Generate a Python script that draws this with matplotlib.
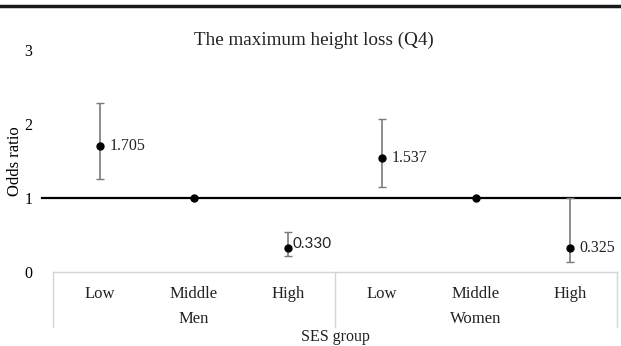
import numpy as np
import matplotlib.pyplot as plt
from matplotlib.lines import Line2D

# values
groups = ["Men", "Women"]
ses_levels = ["Low", "Middle", "High"]
odds = [1.705, 1.0, 0.330, 1.537, 1.0, 0.325]
ci_low = [1.26, 1.0, 0.21, 1.15, 1.0, 0.14]
ci_high = [2.29, 1.0, 0.54, 2.07, 1.0, 1.0]
labels = ["1.705", None, "0.330", "1.537", None, "0.325"]

plt.rcParams['font.family'] = ['Liberation Serif', 'DejaVu Serif']

fig = plt.figure(figsize=(6.21, 3.46), dpi=100)
ax = fig.add_axes([53 / 621, 74 / 346, 564 / 621, 222 / 346])

x = np.arange(len(odds))
odds = np.array(odds)
yerr = [odds - np.array(ci_low), np.array(ci_high) - odds]

# reference line at OR = 1, starts a bit left of the category box
ax.plot([-0.62, 5.6], [1, 1], color='black', lw=1.6, clip_on=False, zorder=2)

has_ci = [i for i in range(len(odds)) if ci_high[i] > ci_low[i]]
ax.errorbar(x[has_ci], odds[has_ci],
            yerr=[yerr[0][has_ci], yerr[1][has_ci]],
            fmt='none', ecolor='#7a7a7a', elinewidth=1.2,
            capsize=3, capthick=1.0, zorder=3)
ax.plot(x, odds, 'o', color='black', ms=5, zorder=4)

# value labels next to the points
offsets = {0: (0.10, 0.0), 2: (0.05, 0.05), 3: (0.10, 0.0), 5: (0.10, 0.0)}
for i, lab in enumerate(labels):
    if lab is None:
        continue
    dx, dy = offsets[i]
    if i == 2:
        ax.text(x[i] + dx, odds[i] + dy, lab, ha='left', va='center',
                fontsize=11, family=['Lato', 'DejaVu Sans'], color='#222222')
    else:
        ax.text(x[i] + dx, odds[i] + dy, lab, ha='left', va='center',
                fontsize=11.5, color='#222222')

ax.set_xlim(-0.5, 5.5)
ax.set_ylim(0, 3)
ax.set_yticks([0, 1, 2, 3])
ax.set_xticks([])
ax.tick_params(axis='y', length=0, pad=15, labelsize=11.5)
for s in ax.spines.values():
    s.set_visible(False)
ax.set_ylabel("Odds ratio", fontsize=12, labelpad=1)

# category box below the plot
box_col = '#d4d4d4'
box_bottom = -0.74
ax.plot([-0.5, 5.5], [0, 0], color=box_col, lw=1.0, clip_on=False)
for xv in [-0.5, 2.5, 5.5]:
    ax.plot([xv, xv], [0, box_bottom], color=box_col, lw=1.0, clip_on=False)

for g, name in enumerate(groups):
    for k, lev in enumerate(ses_levels):
        ax.text(g * 3 + k, -0.30, lev, ha='center', va='center',
                fontsize=12, clip_on=False, color='#222222')
    ax.text(g * 3 + 1, -0.63, name, ha='center', va='center',
            fontsize=12, clip_on=False, color='#222222')
ax.text(2.5, -0.88, "SES group", ha='center', va='center', fontsize=11.5,
        clip_on=False, color='#222222')

fig.text(0.505, 1 - 40 / 346, "The maximum height loss (Q4)", ha='center',
         va='center', fontsize=13.8, color='#222222')

# thick rule along the top edge
fig.add_artist(Line2D([0, 1], [1 - 5.5 / 346, 1 - 5.5 / 346],
                      color='#1a1a1a', lw=2.5, transform=fig.transFigure))

fig.savefig('out.png', dpi=100)
